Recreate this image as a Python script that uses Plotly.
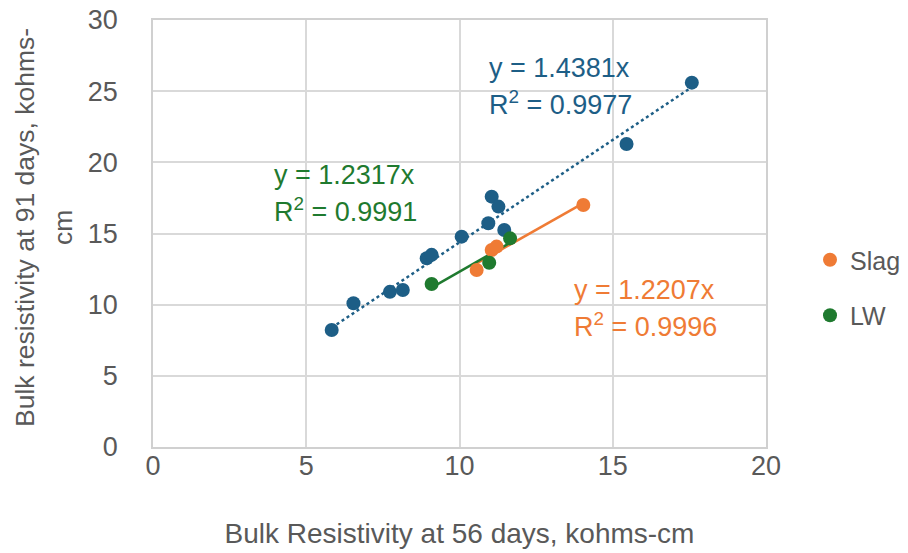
import plotly.graph_objects as go

# ---- data ----
blue_x = [5.83, 6.54, 7.73, 8.15, 8.93, 9.09, 10.07, 10.94, 11.05, 11.27, 11.46, 15.45, 17.58]
blue_y = [8.22, 10.10, 10.90, 11.03, 13.26, 13.50, 14.78, 15.72, 17.59, 16.89, 15.25, 21.29, 25.60]
slag_x = [10.56, 11.05, 11.21, 14.04]
slag_y = [12.44, 13.84, 14.08, 17.00]
lw_x = [9.09, 10.97, 11.65]
lw_y = [11.45, 12.95, 14.66]

blue_slope, blue_r2 = 1.4381, 0.9977
slag_slope, slag_r2 = 1.2207, 0.9996
lw_slope, lw_r2 = 1.2317, 0.9991

x_ticks = [0, 5, 10, 15, 20]
y_ticks = [0, 5, 10, 15, 20, 25, 30]

BLUE = "#1d5e86"
ORANGE = "#ef7b35"
GREEN = "#1f7a2f"
GREY = "#595959"
FONT = "Liberation Sans"

fig = go.Figure()

def trend(xs, slope):
    lo, hi = min(xs), max(xs)
    return [lo, hi], [slope * lo, slope * hi]

tx, ty = trend(blue_x, blue_slope)
fig.add_trace(go.Scatter(x=tx, y=ty, mode="lines", showlegend=False,
                         line=dict(color=BLUE, width=2.5, dash="dot"), hoverinfo="skip"))
tx, ty = trend(slag_x, slag_slope)
fig.add_trace(go.Scatter(x=tx, y=ty, mode="lines", showlegend=False,
                         line=dict(color=ORANGE, width=2.5), hoverinfo="skip"))
tx, ty = trend(lw_x, lw_slope)
fig.add_trace(go.Scatter(x=tx, y=ty, mode="lines", showlegend=False,
                         line=dict(color=GREEN, width=2.5), hoverinfo="skip"))

fig.add_trace(go.Scatter(x=blue_x, y=blue_y, mode="markers", name="Control", showlegend=False,
                         marker=dict(color=BLUE, size=14)))
fig.add_trace(go.Scatter(x=slag_x, y=slag_y, mode="markers", name="Slag", legendgroup="a",
                         marker=dict(color=ORANGE, size=14)))
fig.add_trace(go.Scatter(x=lw_x, y=lw_y, mode="markers", name="LW", legendgroup="b",
                         marker=dict(color=GREEN, size=14)))

# plot area pixels
L, R, T, B = 153, 766, 20, 447
W, H = 908, 553

def px2x(p):
    return (p - L) / (R - L) * 20

def px2y(p):
    return (B - p) / (B - T) * 30

eqs = [
    (487, 68, 103, blue_slope, blue_r2, BLUE),
    (272, 175, 210, lw_slope, lw_r2, GREEN),
    (572, 290, 325, slag_slope, slag_r2, ORANGE),
]
for xl, y1, y2, s, r2, c in eqs:
    fig.add_annotation(x=px2x(xl), y=px2y(y1), xanchor="left", yanchor="middle",
                       text=f"y = {s:.4f}x", showarrow=False,
                       font=dict(family=FONT, size=27, color=c))
    fig.add_annotation(x=px2x(xl), y=px2y(y2), xanchor="left", yanchor="middle",
                       text=f"R<sup>2</sup> = {r2:.4f}", showarrow=False,
                       font=dict(family=FONT, size=27, color=c))

# y-axis title (two lines)
fig.add_annotation(xref="paper", yref="paper", x=(25 - L) / (R - L), y=(B - 228) / (B - T),
                   text="Bulk resistivity at 91 days, kohms-", textangle=-90, showarrow=False,
                   xanchor="center", yanchor="middle", font=dict(family=FONT, size=26.5, color=GREY))
fig.add_annotation(xref="paper", yref="paper", x=(63 - L) / (R - L), y=(B - 228) / (B - T),
                   text="cm", textangle=-90, showarrow=False,
                   xanchor="center", yanchor="middle", font=dict(family=FONT, size=26.5, color=GREY))

axis_common = dict(showgrid=True, gridcolor="#d9d9d9", gridwidth=1.5, zeroline=False,
                   showline=True, linecolor="#d0d0d0", linewidth=1.5, mirror=True,
                   tickfont=dict(family=FONT, size=27, color=GREY), ticks="")

fig.update_layout(
    width=W, height=H,
    margin=dict(l=L, r=W - R, t=T, b=H - B, autoexpand=False),
    paper_bgcolor="white", plot_bgcolor="white",
    xaxis=dict(range=[0, 20], tickvals=x_ticks, ticklabelstandoff=-6,
               title=dict(text="Bulk Resistivity at 56 days, kohms-cm", standoff=43,
                          font=dict(family=FONT, size=28, color=GREY)),
               **axis_common),
    yaxis=dict(range=[0, 30], tickvals=y_ticks, ticklabelstandoff=28, **axis_common),
    legend=dict(x=(810 - L) / (R - L), y=(B - 237) / (B - T), xanchor="left", yanchor="top",
                font=dict(family=FONT, size=25, color=GREY), tracegroupgap=20,
                itemwidth=30),
    showlegend=True,
)

fig.write_html("out.html")
